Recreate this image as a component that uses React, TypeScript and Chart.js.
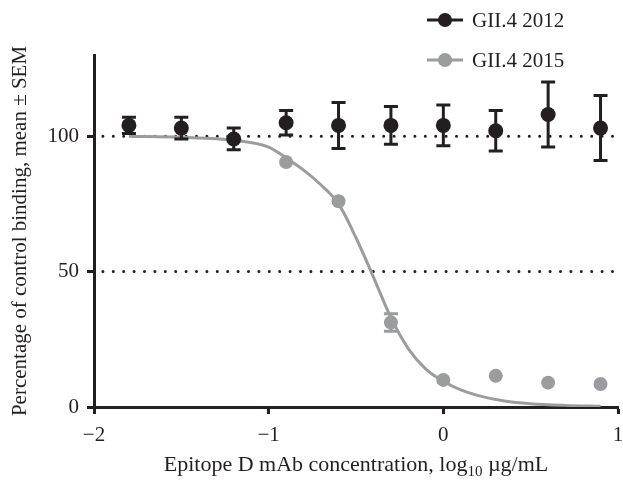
import React, { useEffect, useRef } from "react";
import { Chart, registerables } from "chart.js";
Chart.register(...registerables);

const seriesNames = ["GII.4 2012", "GII.4 2015"];
const logConc = [-1.8, -1.5, -1.2, -0.9, -0.6, -0.3, 0, 0.3, 0.6, 0.9];
const binding2012 = [104, 103, 99, 105, 104, 104, 104, 102, 108, 103];
const sem2012 = [3, 4, 4, 4.5, 8.5, 7, 7.5, 7.5, 12, 12];
const binding2015 = [null, null, null, 90.5, 76, 31.2, 10, 11.5, 9, 8.5];
const sem2015 = [0, 0, 0, 0, 0, 3.2, 0, 0, 0, 0];
const fitX = [-1.8, -1.5, -1.2, -1.0, -0.9, -0.8, -0.7, -0.6, -0.5, -0.4, -0.3, -0.2, -0.1, 0, 0.1, 0.2, 0.35, 0.5, 0.7, 0.9];
const fitY = [100, 99.6, 98.5, 96, 92, 87.5, 82, 75, 62.5, 48, 33, 21.5, 14, 9.5, 6.3, 4.2, 2.2, 1.2, 0.6, 0.3];
const refLines = [100, 50];
const xTicks = [-2, -1, 0, 1];
const yTicks = [0, 50, 100];
const yTitle = "Percentage of control binding, mean \u00b1 SEM";
const xTitleParts = ["Epitope D mAb concentration, log", "10", " \u00b5g/mL"];

const BLACK = "#231f20";
const GRAY = "#9b9c9f";
const FONT = "'Liberation Serif', 'DejaVu Serif', serif";
const FS = 21;
const XFS = 22;

const errorBarPlugin = {
  id: "errorBars",
  beforeDatasetDraw(chart: any, args: any) {
    const ds = chart.data.datasets[args.index];
    if (!ds.errors) return;
    const { ctx } = chart;
    const x = chart.scales.x;
    const y = chart.scales.y;
    ctx.save();
    ctx.strokeStyle = ds.borderColor;
    ctx.lineWidth = 3;
    ds.data.forEach((p: any, i: number) => {
      const e = ds.errors[i];
      if (!p || p.y == null || !e) return;
      const px = x.getPixelForValue(p.x);
      const t = y.getPixelForValue(p.y + e);
      const b = y.getPixelForValue(p.y - e);
      ctx.beginPath();
      ctx.moveTo(px, t);
      ctx.lineTo(px, b);
      ctx.moveTo(px - 7, t);
      ctx.lineTo(px + 7, t);
      ctx.moveTo(px - 7, b);
      ctx.lineTo(px + 7, b);
      ctx.stroke();
    });
    ctx.restore();
  },
};

const decorPlugin = {
  id: "decor",
  afterDraw(chart: any) {
    const { ctx, chartArea } = chart;
    ctx.save();
    // legend
    const colors = [BLACK, GRAY];
    seriesNames.forEach((name, i) => {
      const cy = 20 + i * 40;
      ctx.strokeStyle = colors[i];
      ctx.lineWidth = 3;
      ctx.beginPath();
      ctx.moveTo(427, cy);
      ctx.lineTo(463, cy);
      ctx.stroke();
      ctx.fillStyle = colors[i];
      ctx.beginPath();
      ctx.arc(445, cy, 7, 0, Math.PI * 2);
      ctx.fill();
      ctx.fillStyle = BLACK;
      ctx.font = `${FS}px ${FONT}`;
      ctx.textBaseline = "middle";
      ctx.textAlign = "left";
      ctx.fillText(name, 472, cy + 1);
    });
    // x title with subscript
    const main = `${XFS}px ${FONT}`;
    const sub = `${Math.round(XFS * 0.68)}px ${FONT}`;
    ctx.font = main;
    const w0 = ctx.measureText(xTitleParts[0]).width;
    const w2 = ctx.measureText(xTitleParts[2]).width;
    ctx.font = sub;
    const w1 = ctx.measureText(xTitleParts[1]).width;
    const total = w0 + w1 + w2;
    let sx = (chartArea.left + chartArea.right) / 2 - total / 2;
    const by = 471;
    ctx.textBaseline = "alphabetic";
    ctx.textAlign = "left";
    ctx.fillStyle = BLACK;
    ctx.font = main;
    ctx.fillText(xTitleParts[0], sx, by);
    sx += w0;
    ctx.font = sub;
    ctx.fillText(xTitleParts[1], sx, by + 5);
    sx += w1;
    ctx.font = main;
    ctx.fillText(xTitleParts[2], sx, by);
    ctx.restore();
  },
};

export default function App() {
  const ref = useRef<HTMLCanvasElement>(null);
  useEffect(() => {
    const refDatasets = refLines.map((v) => ({
      type: "line" as const,
      data: [{ x: -2, y: v }, { x: 1, y: v }],
      borderColor: BLACK,
      borderWidth: 3,
      borderDash: [0, 10.4],
      borderDashOffset: 1.5,
      borderCapStyle: "round" as const,
      pointRadius: 0,
      order: 10,
    }));
    const chart = new Chart(ref.current!, {
      type: "line",
      data: {
        datasets: [
          ...refDatasets,
          {
            data: fitX.map((x, i) => ({ x, y: fitY[i] })),
            borderColor: GRAY,
            borderWidth: 3,
            pointRadius: 0,
            cubicInterpolationMode: "monotone",
            order: 5,
          },
          {
            data: logConc.map((x, i) => ({ x, y: binding2015[i] })),
            errors: sem2015,
            showLine: false,
            borderColor: GRAY,
            backgroundColor: GRAY,
            pointRadius: 7,
            pointBorderWidth: 0,
            order: 3,
          } as any,
          {
            data: logConc.map((x, i) => ({ x, y: binding2012[i] })),
            errors: sem2012,
            showLine: false,
            borderColor: BLACK,
            backgroundColor: BLACK,
            pointRadius: 7.5,
            pointBorderWidth: 0,
            order: 1,
          } as any,
        ],
      },
      options: {
        animation: false,
        responsive: true,
        maintainAspectRatio: false,
        layout: { autoPadding: false, padding: { top: 55, right: 5, left: 0, bottom: 0 } },
        plugins: { legend: { display: false }, tooltip: { enabled: false } },
        scales: {
          x: {
            type: "linear",
            min: -2,
            max: 1,
            afterBuildTicks: (s: any) => {
              s.ticks = xTicks.map((v) => ({ value: v }));
            },
            afterFit: (s: any) => {
              s.height = 74;
              s.paddingLeft = 0;
              s.paddingRight = 0;
            },
            grid: { display: true, drawOnChartArea: false, drawTicks: true, tickLength: 7, tickWidth: 3, tickColor: BLACK },
            border: { display: true, width: 3, color: BLACK },
            ticks: {
              color: BLACK,
              padding: 9,
              font: { family: FONT, size: FS },
              callback: (v: any) => (v < 0 ? "\u2212" + Math.abs(v) : String(v)),
            },
          },
          y: {
            type: "linear",
            min: 0,
            max: 130,
            afterBuildTicks: (s: any) => {
              s.ticks = yTicks.map((v) => ({ value: v }));
            },
            afterFit: (s: any) => {
              s.width = 94;
              s.paddingTop = 0;
              s.paddingBottom = 0;
            },
            grid: { display: true, drawOnChartArea: false, drawTicks: true, tickLength: 7, tickWidth: 3, tickColor: BLACK },
            border: { display: true, width: 3, color: BLACK },
            ticks: {
              color: BLACK,
              padding: 8,
              font: { family: FONT, size: FS },
            },
            title: {
              display: true,
              text: yTitle,
              color: BLACK,
              font: { family: FONT, size: FS },
              padding: { top: 8, bottom: 0 },
            },
          },
        },
      },
      plugins: [errorBarPlugin, decorPlugin],
    });
    return () => chart.destroy();
  }, []);
  return (
    <div style={{ position: "absolute", left: 0, top: 0, width: 623, height: 481 }}>
      <canvas ref={ref} />
    </div>
  );
}
